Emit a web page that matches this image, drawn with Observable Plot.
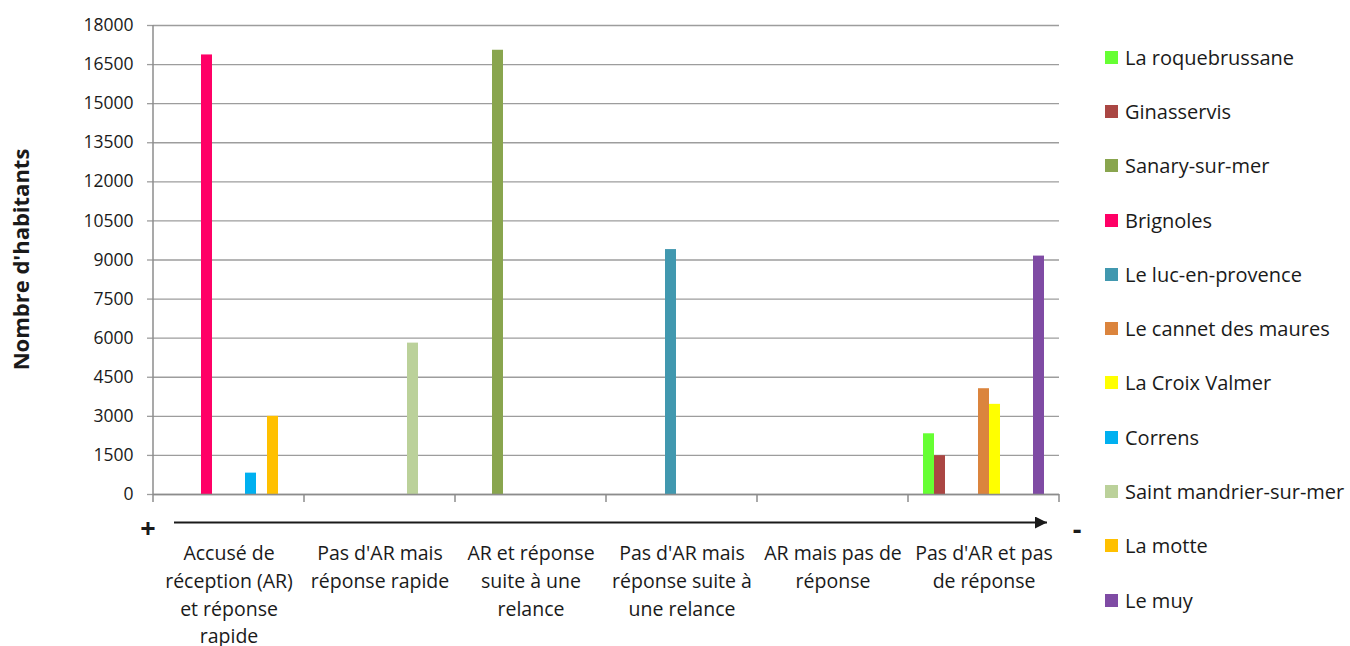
<!DOCTYPE html>
<html>
<head>
<meta charset="utf-8">
<script src="https://cdn.jsdelivr.net/npm/d3@7"></script>
<script src="https://cdn.jsdelivr.net/npm/@observablehq/plot@0.6"></script>
<style>
  html, body { margin: 0; padding: 0; background: #fff; }
  #wrap { position: relative; width: 1350px; height: 646px; font-family: "Open Sans", Lato, sans-serif; }
  #legend { position: absolute; left: 1105px; top: 30px; }
  .item { height: 54.3px; display: flex; align-items: center; font-size: 20px; color: #1a1a1a; white-space: nowrap; }
  .sw { width: 13px; height: 13px; margin-right: 7px; flex: none; }
</style>
</head>
<body>
<div id="wrap"><div id="chart"></div><div id="legend"></div></div>
<script>
// Categories (x axis groups)
const categories = [
  "Accusé de réception (AR) et réponse rapide",
  "Pas d'AR mais réponse rapide",
  "AR et réponse suite à une relance",
  "Pas d'AR mais réponse suite à une relance",
  "AR mais pas de réponse",
  "Pas d'AR et pas de réponse"
];
const categoryLabels = [
  "Accusé de\nréception (AR)\net réponse\nrapide",
  "Pas d'AR mais\nréponse rapide",
  "AR et réponse\nsuite à une\nrelance",
  "Pas d'AR mais\nréponse suite à\nune relance",
  "AR mais pas de\nréponse",
  "Pas d'AR et pas\nde réponse"
];
// Series (communes)
const cities = [
  "La roquebrussane", "Ginasservis", "Sanary-sur-mer", "Brignoles",
  "Le luc-en-provence", "Le cannet des maures", "La Croix Valmer",
  "Correns", "Saint mandrier-sur-mer", "La motte", "Le muy"
];
const colors = [
  "#66ff33", "#aa4643", "#89a54e", "#ff0066",
  "#4198af", "#db843d", "#ffff00",
  "#00b0f0", "#bbd19a", "#ffc000", "#7f4ba4"
];
// Values per commune, one entry per category (0 = no bar)
const laRoquebrussane = [0, 0, 0, 0, 0, 2330];
const ginasservis     = [0, 0, 0, 0, 0, 1490];
const sanarySurMer    = [0, 0, 17050, 0, 0, 0];
const brignoles       = [16870, 0, 0, 0, 0, 0];
const leLucEnProvence = [0, 0, 0, 9400, 0, 0];
const leCannet        = [0, 0, 0, 0, 0, 4060];
const laCroixValmer   = [0, 0, 0, 0, 0, 3460];
const correns         = [820, 0, 0, 0, 0, 0];
const saintMandrier   = [0, 5810, 0, 0, 0, 0];
const laMotte         = [3000, 0, 0, 0, 0, 0];
const leMuy           = [0, 0, 0, 0, 0, 9150];
const seriesValues = [laRoquebrussane, ginasservis, sanarySurMer, brignoles, leLucEnProvence,
  leCannet, laCroixValmer, correns, saintMandrier, laMotte, leMuy];
const yTicks = [0, 1500, 3000, 4500, 6000, 7500, 9000, 10500, 12000, 13500, 15000, 16500, 18000];

const data = [];
categories.forEach((cat, i) => cities.forEach((city, j) => {
  data.push({category: cat, city, value: seriesValues[j][i]});
}));

const W = 1350, H = 646;
const plot = Plot.plot({
  width: W, height: H,
  marginLeft: 152, marginRight: 290, marginTop: 25, marginBottom: 152,
  style: {fontFamily: "'Open Sans', Lato, sans-serif", background: "#fff", color: "#1a1a1a"},
  fx: {domain: categories, padding: 0, label: null},
  x: {domain: cities, paddingInner: 0, paddingOuter: 0.8, axis: null},
  y: {domain: [0, 18000], label: null},
  color: {domain: cities, range: colors},
  marks: [
    Plot.gridY(yTicks, {stroke: "#9d9d9d", strokeOpacity: 1, strokeWidth: 1.3}),
    Plot.axisY(yTicks, {facetAnchor: "left", tickSize: 6, tickPadding: 14, stroke: "#9d9d9d", strokeWidth: 1.3,
      fontSize: 17.5, tickFormat: d => String(d), label: null}),
    Plot.axisFx({anchor: "bottom", tickSize: 0, tickPadding: 46, fontSize: 19.5, lineHeight: 1.42,
      tickFormat: d => categoryLabels[categories.indexOf(d)], label: null}),
    Plot.barY(data, {fx: "category", x: "city", y: "value", fill: "city"}),
    Plot.ruleY([0], {stroke: "#8c8c8c", strokeWidth: 1.5})
  ]
});
document.getElementById("chart").appendChild(plot);

// Decorations using the plot's own scales
const fx = plot.scale("fx"), y = plot.scale("y");
const y0 = y.apply(0), yTop = y.apply(18000);
const bw = fx.bandwidth;
const left = fx.apply(categories[0]);
const right = fx.apply(categories[categories.length - 1]) + bw;
const svg = d3.select(plot);
const g = svg.append("g");
// left axis line
g.append("line").attr("x1", left).attr("x2", left).attr("y1", yTop).attr("y2", y0)
  .attr("stroke", "#8c8c8c").attr("stroke-width", 1.5);
// category boundary ticks
const bounds = categories.map(c => fx.apply(c)).concat([right]);
g.selectAll("line.tk").data(bounds).join("line").attr("class", "tk")
  .attr("x1", d => d).attr("x2", d => d).attr("y1", y0).attr("y2", y0 + 8)
  .attr("stroke", "#8c8c8c").attr("stroke-width", 1.5);
// arrow
const ay = y0 + 28.5;
svg.append("defs").append("marker").attr("id", "arr").attr("viewBox", "0 0 10 10")
  .attr("refX", 10).attr("refY", 5).attr("markerWidth", 6.5).attr("markerHeight", 6)
  .attr("markerUnits", "strokeWidth").attr("orient", "auto")
  .append("path").attr("d", "M0,0L10,5L0,10z").attr("fill", "#1a1a1a");
g.append("line").attr("x1", left + 21).attr("x2", right - 12).attr("y1", ay).attr("y2", ay)
  .attr("stroke", "#1a1a1a").attr("stroke-width", 2).attr("marker-end", "url(#arr)");
g.append("text").attr("x", left - 5).attr("y", ay + 8).attr("text-anchor", "middle")
  .attr("dominant-baseline", "middle").attr("font-size", 27).attr("font-weight", "bold")
  .attr("fill", "#1a1a1a").text("+");
g.append("text").attr("x", right + 18).attr("y", ay + 9).attr("text-anchor", "middle")
  .attr("dominant-baseline", "middle").attr("font-size", 27).attr("font-weight", "bold")
  .attr("fill", "#1a1a1a").text("-");
// y axis title
g.append("text").attr("transform", `translate(23,${(y0 + yTop) / 2}) rotate(-90)`)
  .attr("text-anchor", "middle").attr("dominant-baseline", "middle")
  .attr("font-size", 22).attr("font-weight", "bold").attr("fill", "#1a1a1a")
  .text("Nombre d'habitants");

// Legend
const legend = d3.select("#legend");
cities.forEach((c, i) => {
  const it = legend.append("div").attr("class", "item");
  it.append("div").attr("class", "sw").style("background", colors[i]);
  it.append("span").text(c);
});
</script>
</body>
</html>
